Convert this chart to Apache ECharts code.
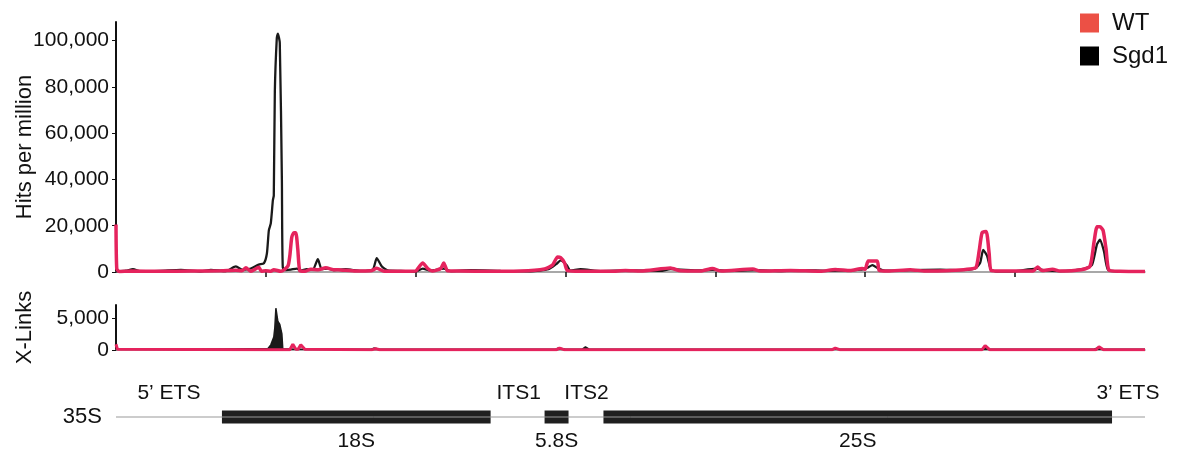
<!DOCTYPE html>
<html>
<head>
<meta charset="utf-8">
<script src="https://cdn.jsdelivr.net/npm/echarts@6/dist/echarts.min.js"></script>
<style>
  html, body { margin: 0; padding: 0; background: #fff; }
  #chart { width: 1180px; height: 454px; }
</style>
</head>
<body>
<div id="chart"></div>
<script>
// positions are nucleotides along the 35S pre-rRNA (0 .. 6867)
const seqLength = 6867
const posTicks = [1000, 2000, 3000, 4000, 5000, 6000]

// Hits per million, [position, value]
const sgd1Hits = [
  [0, 300], [67, 600], [113, 1200], [167, 300], [300, 500], [433, 900], [567, 300], [633, 900],
  [733, 400], [800, 2400], [847, 900], [900, 1500], [953, 3200], [987, 3800], [1007, 8000],
  [1020, 18000], [1033, 21000], [1047, 31000], [1053, 33000], [1060, 78000], [1073, 101000],
  [1080, 103000], [1093, 99000], [1107, 40000], [1113, 2000], [1133, 800], [1167, 1000],
  [1207, 1500], [1233, 600], [1273, 1200], [1313, 900], [1347, 5500], [1373, 1200], [1413, 1500],
  [1460, 800], [1533, 1200], [1633, 500], [1713, 1000], [1740, 6000], [1773, 2500], [1813, 700],
  [1900, 500], [2000, 200], [2047, 1500], [2100, 600], [2187, 1500], [2233, 400], [2367, 800],
  [2567, 500], [2767, 300], [2887, 1200], [2940, 3500], [2967, 5000], [3007, 3000], [3033, 600],
  [3100, 1200], [3233, 400], [3433, 700], [3633, 500], [3700, 1200], [3900, 700], [3980, 900],
  [4100, 500], [4267, 800], [4433, 400], [4567, 800], [4767, 500], [4967, 1000], [5020, 2000],
  [5047, 3000], [5087, 1500], [5133, 600], [5300, 800], [5500, 1000], [5633, 800], [5733, 1500],
  [5767, 4000], [5787, 9500], [5813, 7000], [5840, 1000], [5900, 300], [6000, 400], [6140, 1500],
  [6200, 700], [6300, 400], [6467, 1500], [6513, 3000], [6547, 12000], [6567, 14000], [6593, 9000],
  [6620, 1000], [6700, 300], [6867, 200]
]
const wtHits = [
  [0, 20500], [5, 1500], [20, 200], [100, 400], [300, 300], [500, 400], [700, 500], [800, 800],
  [840, 500], [867, 1800], [900, 300], [953, 2000], [970, 300], [1000, 500], [1033, 300],
  [1053, 1000], [1100, 300], [1147, 2500], [1160, 7000], [1173, 15000], [1187, 17000],
  [1200, 17000], [1213, 10000], [1227, 500], [1260, 300], [1300, 1200], [1350, 1000], [1400, 1800],
  [1450, 1000], [1500, 900], [1600, 400], [1700, 500], [1740, 1600], [1790, 300], [1900, 300],
  [2000, 400], [2020, 2000], [2047, 3900], [2080, 1500], [2110, 400], [2167, 1500], [2187, 3900],
  [2213, 500], [2300, 400], [2500, 300], [2700, 400], [2860, 1300], [2913, 3000], [2947, 6500],
  [2967, 6200], [2993, 4000], [3013, 600], [3100, 300], [3300, 300], [3400, 600], [3500, 400],
  [3700, 1700], [3767, 500], [3900, 400], [3980, 1500], [4040, 400], [4250, 1300], [4300, 400],
  [4500, 700], [4700, 300], [4800, 1100], [4900, 600], [4980, 1500], [5000, 1200], [5020, 4800],
  [5080, 4800], [5093, 700], [5150, 400], [5300, 1000], [5400, 400], [5600, 800], [5700, 1300],
  [5740, 2000], [5760, 9000], [5780, 17000], [5807, 17500], [5827, 8000], [5840, 700], [5900, 400],
  [6000, 400], [6120, 400], [6150, 2200], [6180, 600], [6250, 1200], [6300, 400], [6440, 1000],
  [6500, 2500], [6527, 13000], [6547, 19500], [6567, 19500], [6587, 18000], [6607, 10000],
  [6627, 800], [6700, 300], [6867, 200]
]

// X-Links, [position, value]
const sgd1Links = [
  [0, 100], [500, 100], [900, 200], [1013, 200], [1033, 800], [1053, 2000], [1060, 3500],
  [1067, 6500], [1073, 6400], [1080, 4500], [1093, 4000], [1107, 2500], [1113, 200], [1200, 100],
  [1700, 100], [1720, 300], [1760, 100], [2930, 100], [2953, 300], [3000, 100], [3110, 100],
  [3133, 500], [3160, 100], [5770, 100], [5800, 300], [5830, 100], [6520, 100], [6550, 300],
  [6580, 100], [6867, 100]
]
const wtLinks = [
  [0, 900], [10, 100], [1000, 50], [1160, 50], [1180, 900], [1200, 100], [1215, 100], [1233, 800],
  [1260, 100], [1710, 50], [1733, 200], [1760, 50], [2940, 50], [2960, 300], [2990, 50],
  [4780, 50], [4800, 300], [4830, 50], [5780, 50], [5800, 700], [5830, 50], [6540, 50],
  [6560, 500], [6590, 50], [6867, 50]
]

const hitsTicks = [0, 20000, 40000, 60000, 80000, 100000]
const linkTicks = [0, 5000]

// 35S annotation
const geneNames = ['18S', '5.8S', '25S']
const geneStart = [707, 2860, 3253]
const geneEnd = [2500, 3020, 6647]
const spacerNames = ['5’ ETS', 'ITS1', 'ITS2', '3’ ETS']
const spacerPos = [353, 2687, 3140, 6753]

const font = 'Liberation Sans, Arial, sans-serif'
const wtColor = '#e5235d'
const sgd1Color = '#1a1a1a'
const fmt = v => v.toLocaleString('en-US')

const xBase = {
  type: 'value',
  min: 0,
  max: seqLength,
  splitLine: { show: false },
  axisLabel: { show: false }
}

const option = {
  animation: false,
  legend: {
    orient: 'vertical',
    left: 1075,
    top: 6,
    itemWidth: 19,
    itemHeight: 19,
    itemGap: 9,
    icon: 'rect',
    textStyle: { fontSize: 24, fontFamily: font, color: '#111', padding: [0, 0, 0, 8] },
    data: [
      { name: 'WT', itemStyle: { color: '#ec5045' } },
      { name: 'Sgd1', itemStyle: { color: '#000' } }
    ]
  },
  grid: [
    { left: 116, right: 35, top: 22, height: 250, outerBoundsMode: 'none' },
    { left: 116, right: 35, top: 305, height: 45, outerBoundsMode: 'none' },
    { left: 116, right: 35, top: 404, height: 26, outerBoundsMode: 'none' }
  ],
  xAxis: [
    {
      ...xBase,
      gridIndex: 0,
      axisLine: { lineStyle: { color: '#8c8c8c', width: 1.5 } },
      axisTick: { show: true, customValues: posTicks, length: 5, lineStyle: { color: '#111', width: 1.5 } }
    },
    {
      ...xBase,
      gridIndex: 1,
      axisLine: { lineStyle: { color: '#8c8c8c', width: 1.5 } },
      axisTick: { show: false }
    },
    {
      ...xBase,
      gridIndex: 2,
      axisLine: { show: false },
      axisTick: { show: false }
    }
  ],
  yAxis: [
    {
      type: 'value',
      gridIndex: 0,
      min: 0,
      max: 108000,
      name: 'Hits per million',
      nameLocation: 'middle',
      nameGap: 80,
      nameMoveOverlap: false,
      nameTextStyle: { fontSize: 22, fontFamily: font, color: '#111' },
      splitLine: { show: false },
      axisLine: { show: true, lineStyle: { color: '#111', width: 2 } },
      axisTick: { show: true, customValues: hitsTicks, length: 4, lineStyle: { color: '#111' } },
      axisLabel: { customValues: hitsTicks, formatter: fmt, fontSize: 21, fontFamily: font, color: '#111', margin: 7 }
    },
    {
      type: 'value',
      gridIndex: 1,
      min: 0,
      max: 7000,
      name: 'X-Links',
      nameLocation: 'middle',
      nameGap: 80,
      nameMoveOverlap: false,
      nameTextStyle: { fontSize: 22, fontFamily: font, color: '#111' },
      splitLine: { show: false },
      axisLine: { show: true, lineStyle: { color: '#111', width: 2 } },
      axisTick: { show: true, customValues: linkTicks, length: 4, lineStyle: { color: '#111' } },
      axisLabel: { customValues: linkTicks, formatter: fmt, fontSize: 21, fontFamily: font, color: '#111', margin: 7 }
    },
    {
      type: 'category',
      gridIndex: 2,
      data: ['35S'],
      axisLine: { show: false },
      axisTick: { show: false },
      axisLabel: { fontSize: 22, fontFamily: font, color: '#111', margin: 14 }
    }
  ],
  series: [
    {
      name: 'Sgd1', type: 'line', xAxisIndex: 0, yAxisIndex: 0, data: sgd1Hits,
      showSymbol: false, smooth: 0.2, lineStyle: { color: sgd1Color, width: 2.3 }, itemStyle: { color: sgd1Color }
    },
    {
      name: 'WT', type: 'line', xAxisIndex: 0, yAxisIndex: 0, data: wtHits,
      showSymbol: false, smooth: 0.2, lineStyle: { color: wtColor, width: 3.5 }, itemStyle: { color: wtColor }
    },
    {
      name: 'Sgd1', type: 'line', xAxisIndex: 1, yAxisIndex: 1, data: sgd1Links,
      showSymbol: false, lineStyle: { color: sgd1Color, width: 1.5 }, areaStyle: { color: sgd1Color, opacity: 1 }, itemStyle: { color: sgd1Color }
    },
    {
      name: 'WT', type: 'line', xAxisIndex: 1, yAxisIndex: 1, data: wtLinks,
      showSymbol: false, lineStyle: { color: wtColor, width: 3 }, itemStyle: { color: wtColor }
    },
    // 35S backbone
    {
      type: 'line', xAxisIndex: 2, yAxisIndex: 2, data: [[0, '35S'], [seqLength, '35S']],
      showSymbol: false, silent: true, lineStyle: { color: '#999', width: 1 }
    },
    // mature rRNA boxes with names below
    {
      type: 'custom', xAxisIndex: 2, yAxisIndex: 2,
      data: geneNames.map((n, i) => [geneStart[i], geneEnd[i], 0]),
      renderItem: (params, api) => {
        const a = api.coord([api.value(0), 0])
        const b = api.coord([api.value(1), 0])
        const h = 13
        return {
          type: 'group',
          children: [
            { type: 'rect', shape: { x: a[0], y: a[1] - h / 2, width: b[0] - a[0], height: h }, style: { fill: '#1f1f1f' } },
            {
              type: 'text',
              style: {
                text: geneNames[params.dataIndex], x: (a[0] + b[0]) / 2, y: a[1] + 24,
                align: 'center', verticalAlign: 'middle', fontSize: 21, fontFamily: font, fill: '#111'
              }
            }
          ]
        }
      }
    },
    // spacer labels above
    {
      type: 'custom', xAxisIndex: 2, yAxisIndex: 2,
      data: spacerNames.map((n, i) => [spacerPos[i], 0]),
      renderItem: (params, api) => {
        const p = api.coord([api.value(0), 0])
        return {
          type: 'text',
          style: {
            text: spacerNames[params.dataIndex], x: p[0], y: p[1] - 24,
            align: 'center', verticalAlign: 'middle', fontSize: 21, fontFamily: font, fill: '#111'
          }
        }
      }
    }
  ]
}

const dom = document.querySelector('#chart')
const C = echarts.init(dom)
C.setOption(option)
</script>
</body>
</html>
